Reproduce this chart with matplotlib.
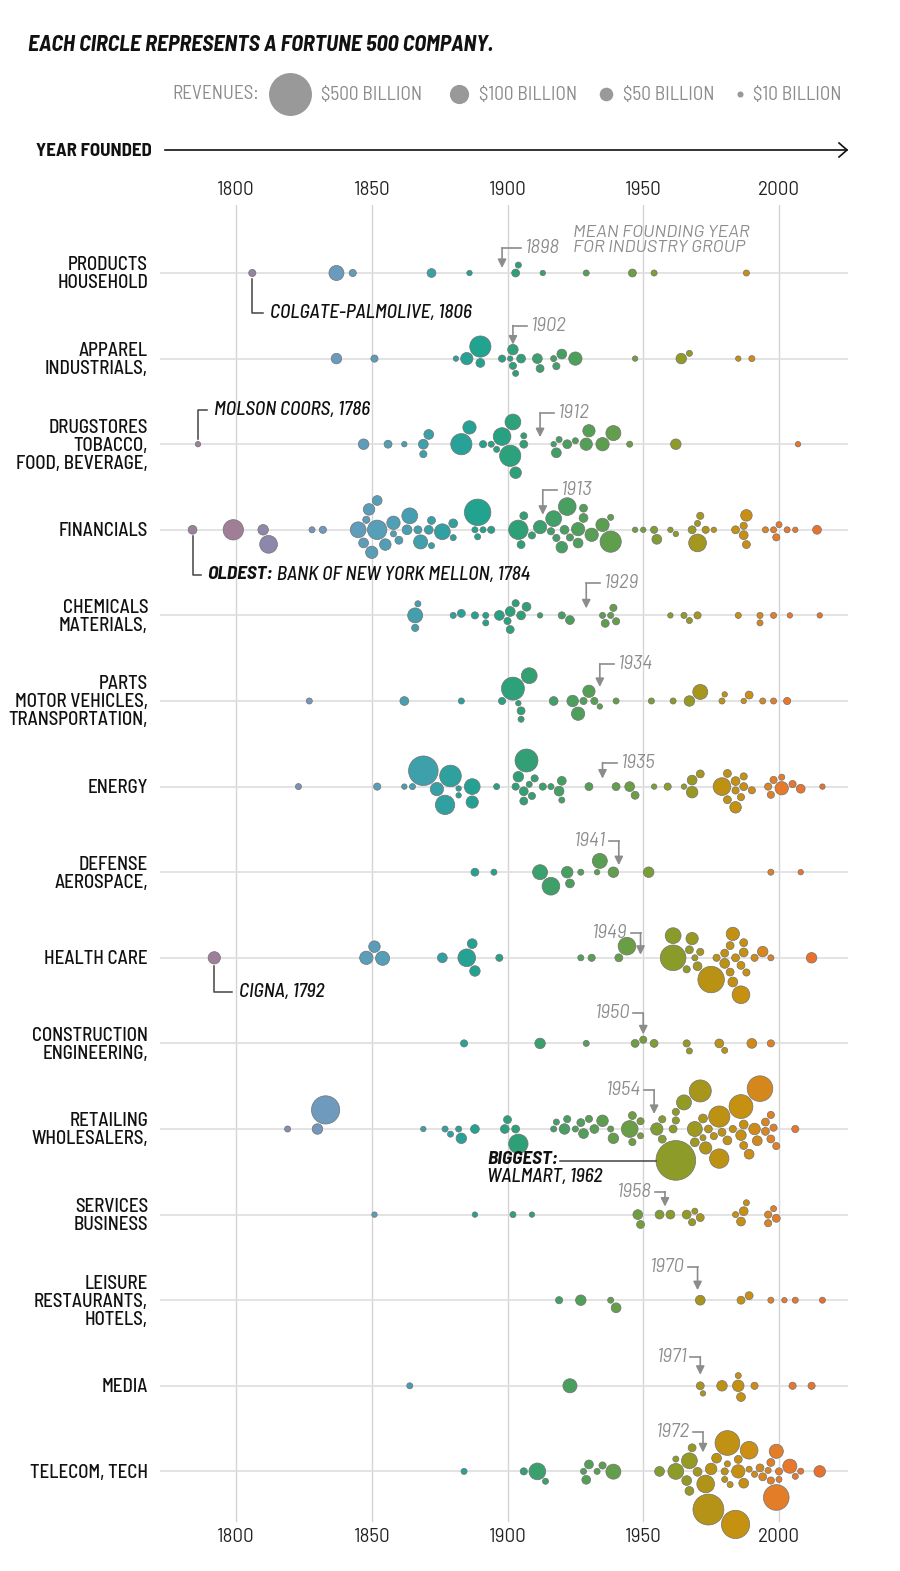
import numpy as np
import matplotlib
matplotlib.use("Agg")
import matplotlib.pyplot as plt
from matplotlib.colors import LinearSegmentedColormap
from matplotlib.transforms import blended_transform_factory

plt.rcParams["font.family"] = ["Barlow Semi Condensed", "DejaVu Sans"]
WIDE = ["Barlow", "Barlow Semi Condensed", "DejaVu Sans"]

# ---- data: (year founded, revenue $B) per industry row ----
row_labels = ["PRODUCTS\nHOUSEHOLD", "APPAREL\nINDUSTRIALS,", "DRUGSTORES\nTOBACCO,\nFOOD, BEVERAGE,",
              "FINANCIALS", "CHEMICALS\nMATERIALS,", "PARTS\nMOTOR VEHICLES,\nTRANSPORTATION,",
              "ENERGY", "DEFENSE\nAEROSPACE,", "HEALTH CARE", "CONSTRUCTION\nENGINEERING,",
              "RETAILING\nWHOLESALERS,", "SERVICES\nBUSINESS", "LEISURE\nRESTAURANTS,\nHOTELS,",
              "MEDIA", "TELECOM, TECH"]

mean_years = [1898, 1902, 1912, 1913, 1929, 1934, 1935, 1941, 1949, 1950, 1954, 1958, 1970, 1971, 1972]

household = [(1806, 14), (1837, 61), (1843, 14), (1872, 21), (1886, 8), (1903, 17), (1904, 10),
             (1913, 8), (1929, 10), (1946, 17), (1954, 10), (1988, 10)]
industrials = [(1837, 30), (1851, 14), (1881, 8), (1885, 41), (1890, 21), (1890, 122), (1898, 14),
               (1901, 8), (1903, 10), (1905, 21), (1902, 30), (1902, 14), (1912, 17), (1911, 26),
               (1917, 10), (1918, 14), (1920, 26), (1925, 48), (1947, 8), (1964, 30), (1967, 10),
               (1985, 8), (1990, 10)]
food = [(1786, 8), (1847, 30), (1856, 17), (1862, 8), (1869, 14), (1869, 26), (1871, 26), (1883, 122),
        (1886, 48), (1891, 14), (1894, 10), (1896, 10), (1898, 85), (1901, 122), (1902, 68), (1903, 36),
        (1906, 10), (1906, 17), (1918, 26), (1922, 21), (1919, 10), (1917, 8), (1925, 10), (1930, 41),
        (1929, 41), (1935, 48), (1939, 61), (1945, 10), (1962, 30), (2007, 8)]
financials = [(1784, 21), (1799, 112), (1810, 30), (1812, 85), (1828, 10), (1832, 14), (1845, 68),
              (1847, 26), (1848, 14), (1850, 41), (1852, 102), (1849, 36), (1852, 26), (1855, 36),
              (1858, 48), (1858, 10), (1860, 17), (1864, 68), (1863, 26), (1868, 54), (1867, 17),
              (1871, 21), (1872, 10), (1872, 17), (1876, 68), (1880, 21), (1880, 10), (1889, 190),
              (1888, 10), (1891, 10), (1894, 14), (1889, 10), (1904, 102), (1905, 17), (1906, 17),
              (1909, 14), (1912, 48), (1916, 14), (1920, 36), (1917, 68), (1918, 14), (1921, 21),
              (1922, 85), (1926, 48), (1926, 26), (1923, 14), (1928, 17), (1928, 21), (1931, 48),
              (1935, 48), (1938, 10), (1938, 122), (1947, 8), (1950, 8), (1955, 26), (1954, 14),
              (1960, 8), (1962, 8), (1970, 85), (1971, 14), (1968, 17), (1970, 10), (1973, 14),
              (1976, 8), (1984, 17), (1988, 17), (1987, 21), (1988, 36), (1987, 14), (1995, 10),
              (1998, 10), (2000, 10), (1999, 14), (2003, 10), (2006, 8), (2014, 21)]
materials = [(1867, 10), (1866, 14), (1866, 61), (1880, 10), (1883, 17), (1888, 14), (1892, 10),
             (1892, 10), (1901, 17), (1901, 26), (1907, 21), (1905, 21), (1903, 14), (1900, 14),
             (1897, 26), (1912, 8), (1920, 14), (1923, 21), (1935, 10), (1938, 10), (1939, 14),
             (1936, 17), (1940, 14), (1960, 8), (1965, 10), (1967, 10), (1970, 14), (1985, 10),
             (1993, 10), (1993, 10), (1998, 10), (2004, 8), (2015, 8)]
transport = [(1827, 10), (1862, 21), (1883, 10), (1902, 143), (1905, 10), (1898, 14), (1904, 8),
             (1908, 68), (1905, 17), (1917, 21), (1924, 36), (1926, 48), (1930, 41), (1928, 14),
             (1932, 14), (1934, 8), (1940, 10), (1953, 10), (1961, 10), (1971, 61), (1967, 30),
             (1979, 10), (1980, 8), (1989, 17), (1987, 8), (1994, 10), (1998, 10), (2003, 14)]
energy = [(1823, 10), (1852, 14), (1862, 8), (1865, 10), (1869, 237), (1879, 127), (1877, 102),
          (1874, 48), (1882, 8), (1882, 8), (1887, 68), (1887, 41), (1896, 10), (1907, 143),
          (1910, 14), (1904, 30), (1903, 14), (1906, 17), (1908, 10), (1909, 14), (1906, 21),
          (1913, 14), (1916, 10), (1919, 26), (1920, 10), (1920, 21), (1930, 17), (1940, 17),
          (1945, 26), (1947, 17), (1954, 8), (1959, 14), (1965, 8), (1968, 36), (1971, 17),
          (1968, 26), (1979, 85), (1981, 17), (1984, 14), (1987, 14), (1990, 14), (1984, 21),
          (1987, 17), (1981, 17), (1986, 14), (1984, 36), (1996, 14), (1998, 14), (2001, 10),
          (2005, 14), (2008, 21), (1997, 14), (2001, 48), (2016, 8)]
aerospace = [(1888, 17), (1895, 10), (1916, 85), (1912, 61), (1922, 36), (1923, 21), (1927, 10),
             (1934, 61), (1933, 8), (1939, 30), (1952, 30), (1997, 10), (2008, 8)]
health = [(1792, 41), (1848, 48), (1854, 54), (1851, 36), (1876, 26), (1885, 85), (1887, 26),
          (1888, 30), (1897, 14), (1927, 10), (1931, 14), (1941, 17), (1944, 85), (1961, 68),
          (1961, 178), (1968, 41), (1969, 10), (1966, 14), (1970, 21), (1971, 14), (1967, 17),
          (1975, 190), (1977, 14), (1980, 26), (1983, 26), (1986, 85), (1982, 17), (1980, 17),
          (1984, 17), (1987, 17), (1982, 17), (1986, 17), (1988, 14), (1991, 14), (1994, 30),
          (1997, 10), (1983, 48), (1987, 21), (2012, 30)]
engineering = [(1884, 14), (1912, 30), (1929, 10), (1947, 17), (1950, 14), (1954, 17), (1966, 14),
               (1967, 10), (1978, 21), (1980, 10), (1990, 26), (1997, 14)]
retail = [(1819, 10), (1830, 30), (1833, 216), (1869, 8), (1877, 10), (1879, 10), (1882, 10),
          (1883, 30), (1888, 21), (1899, 21), (1904, 102), (1900, 17), (1903, 17), (1917, 10),
          (1918, 10), (1922, 14), (1921, 30), (1925, 10), (1927, 17), (1928, 26), (1930, 14),
          (1932, 21), (1935, 36), (1938, 10), (1939, 30), (1945, 76), (1946, 17), (1949, 14),
          (1946, 14), (1949, 10), (1955, 41), (1957, 14), (1957, 17), (1962, 428), (1962, 14),
          (1962, 14), (1961, 17), (1965, 61), (1971, 132), (1969, 61), (1969, 21), (1972, 21),
          (1972, 10), (1974, 17), (1973, 41), (1978, 102), (1978, 122), (1976, 14), (1981, 21),
          (1979, 17), (1983, 14), (1986, 154), (1986, 30), (1987, 17), (1989, 26), (1987, 21),
          (1991, 36), (1993, 178), (1992, 26), (1995, 17), (1997, 17), (1999, 14), (1998, 14),
          (1995, 17), (1997, 14), (2006, 14)]
services = [(1851, 8), (1888, 8), (1902, 10), (1909, 8), (1948, 26), (1949, 17), (1956, 21),
            (1960, 21), (1966, 21), (1968, 14), (1969, 10), (1971, 17), (1986, 21), (1984, 10),
            (1988, 10), (1987, 21), (1996, 14), (1999, 17), (1998, 10), (1996, 14)]
leisure = [(1919, 14), (1927, 30), (1938, 10), (1940, 26), (1971, 26), (1986, 17), (1989, 17),
           (1997, 10), (2002, 8), (2006, 10), (2016, 10)]
media = [(1864, 10), (1923, 54), (1971, 17), (1972, 8), (1979, 30), (1985, 36), (1986, 21),
         (1985, 10), (1991, 14), (2005, 14), (2012, 14)]
tech = [(1884, 10), (1906, 14), (1911, 76), (1914, 10), (1928, 10), (1929, 21), (1930, 21),
        (1933, 10), (1935, 14), (1939, 61), (1956, 26), (1962, 68), (1962, 10), (1967, 21),
        (1966, 26), (1967, 68), (1970, 21), (1968, 17), (1973, 85), (1974, 259), (1975, 36),
        (1977, 26), (1980, 14), (1981, 10), (1982, 10), (1985, 17), (1985, 48), (1981, 166),
        (1984, 216), (1980, 10), (1987, 26), (1989, 85), (1989, 10), (1991, 10), (1993, 17),
        (1994, 17), (1996, 10), (1997, 17), (1999, 54), (1999, 178), (2000, 10), (1997, 14),
        (2000, 14), (2004, 54), (2006, 10), (2008, 10), (2015, 36)]

rows = [household, industrials, food, financials, materials, transport, energy, aerospace,
        health, engineering, retail, services, leisure, media, tech]

legend_revs = [500, 100, 50, 10]
legend_texts = ["$500 BILLION", "$100 BILLION", "$50 BILLION", "$10 BILLION"]
decades = [1800, 1850, 1900, 1950, 2000]

# ---- geometry (pixels, fig is 900 x 1571 at 100 dpi) ----
W, H, DPI = 900, 1571, 100
PX_PER_YR = 543 / 200.0
X0_YR = 1800 - (236 - 160) / PX_PER_YR
X1_YR = 1800 + (848 - 236) / PX_PER_YR
AX_TOP, AX_BOT = 205, 1522
R_K = 0.96          # radius px = R_K * sqrt(revenue)
row_y = [273 + 85.6 * i for i in range(len(rows))]

stops = [(1784, "#9a809b"), (1800, "#a27e98"), (1812, "#8a89ad"), (1835, "#6c9bbe"),
         (1860, "#4d9fb5"), (1875, "#33a0a4"), (1890, "#1fa38e"), (1905, "#2fa076"),
         (1925, "#4d9f5c"), (1945, "#6a9e44"), (1958, "#869c2e"), (1968, "#969a22"),
         (1975, "#b99214"), (1988, "#c8900f"), (1996, "#db8422"), (2002, "#e8782c"),
         (2016, "#e8702e")]
Y_MIN, Y_MAX = stops[0][0], stops[-1][0]
cmap = LinearSegmentedColormap.from_list(
    "founded", [((y - Y_MIN) / (Y_MAX - Y_MIN), c) for y, c in stops])


def swarm(items, pad=1.4):
    """place circles along x, pushing them off the line only when they collide"""
    xs = np.array([y for y, _ in items]) * PX_PER_YR
    rs = R_K * np.sqrt([r for _, r in items])
    order = sorted(range(len(items)), key=lambda i: (items[i][0], -items[i][1]))
    ys = np.zeros(len(items))
    done = []
    for k, i in enumerate(order):
        cands = [0.0]
        for j in done:
            dx = xs[i] - xs[j]
            d = rs[i] + rs[j] + pad
            if abs(dx) < d:
                dy = np.sqrt(d * d - dx * dx)
                cands += [ys[j] + dy, ys[j] - dy]
        big = rs[i] > 15
        sgn = 1 if (k % 2 or big) else -1

        def cost(v):
            c = abs(v)
            if big and v < 0:
                c += 6
            return (round(c, 3), -sgn * v)
        cands.sort(key=cost)
        for c in cands:
            ok = all((xs[i] - xs[j]) ** 2 + (c - ys[j]) ** 2 >= (rs[i] + rs[j] + pad - 0.01) ** 2
                     for j in done)
            if ok:
                ys[i] = c
                break
        done.append(i)
    return ys, rs


fig = plt.figure(figsize=(W / DPI, H / DPI), dpi=DPI)
ax = fig.add_axes([160 / W, 1 - AX_BOT / H, (848 - 160) / W, (AX_BOT - AX_TOP) / H])
ax.set_xlim(X0_YR, X1_YR)
ax.set_ylim(AX_BOT, AX_TOP)
for s in ax.spines.values():
    s.set_visible(False)
ax.set_yticks([])
ax.set_xticks(decades)
ax.tick_params(axis="x", length=0, top=True, labeltop=True, bottom=True, labelbottom=True,
               labelsize=13.5, labelcolor="#222222", pad=4)
for tk in ax.xaxis.get_major_ticks():
    tk.label1.set_family(WIDE)
    tk.label2.set_family(WIDE)
ax.grid(axis="x", color="#d4d4d4", lw=1)
ax.set_axisbelow(True)

lab_tr = blended_transform_factory(ax.transAxes, ax.transData)
gray = "#8c8c8c"
positions = {}

for i, items in enumerate(rows):
    y0 = row_y[i]
    ax.axhline(y0, color="#dedede", lw=1.2, zorder=1)
    offs, rs = swarm(items)
    yrs = np.array([y for y, _ in items])
    cols = cmap((yrs - Y_MIN) / (Y_MAX - Y_MIN))
    sizes = (2 * rs * 72 / DPI) ** 2
    ax.scatter(yrs, y0 + offs, s=sizes, c=cols, edgecolors="#727272", linewidths=0.5,
               zorder=3, clip_on=False)
    positions[i] = (yrs, y0 + offs, rs)
    ax.text(-12 / 688, y0 + 1.5, row_labels[i], transform=lab_tr, ha="right", va="center",
            fontsize=13.6, weight="medium", color="#111111", linespacing=1.0)

# mean founding year markers: (text on right?, bracket height above line, tip gap)
mean_style = [(True, 25, 5), (True, 33, 14), (True, 31, 7), (True, 40, 15), (True, 32, 7),
              (True, 37, 14), (True, 24, 8), (False, 31, 7), (False, 25, 3), (False, 30, 9),
              (False, 39, 15), (False, 23, 8), (False, 33, 10), (False, 29, 11), (False, 39, 19)]
for i, (yr, (right, top, tip)) in enumerate(zip(mean_years, mean_style)):
    y0 = row_y[i]
    ytop = y0 - top
    if right:
        stub = (19 if i == 0 else 14) / PX_PER_YR
        ax.plot([yr, yr + stub], [ytop, ytop], color=gray, lw=1.2, zorder=4)
        ax.text(yr + stub + 4 / PX_PER_YR, ytop, str(yr), ha="left", va="center", family=WIDE,
                fontsize=13.5, style="italic", color=gray)
    else:
        stub = 10 / PX_PER_YR
        ax.plot([yr - stub, yr], [ytop, ytop], color=gray, lw=1.2, zorder=4)
        ax.text(yr - stub - 3 / PX_PER_YR, ytop, str(yr), ha="right", va="center", family=WIDE,
                fontsize=13.5, style="italic", color=gray)
    ax.annotate("", xy=(yr, y0 - tip), xytext=(yr, ytop), zorder=4,
                arrowprops=dict(arrowstyle="-|>,head_length=0.5,head_width=0.25", color=gray,
                                lw=1.2, shrinkA=0, shrinkB=0))

ax.text(1800 + (573 - 236) / PX_PER_YR, row_y[0] - 33, "MEAN FOUNDING YEAR\nFOR INDUSTRY GROUP",
        ha="left", va="center", fontsize=13, style="italic", color=gray, linespacing=1.0,
        family=WIDE)


# callouts for notable companies
def callout(row, year, text_parts, ty, tx_year, down=True):
    yrs, ys, rs = positions[row]
    k = int(np.argmin(np.abs(yrs - year)))
    cy = ys[k] + (rs[k] if down else -rs[k])
    ax.plot([year, year, tx_year - 2 / PX_PER_YR], [cy + (2 if down else -2), ty, ty],
            color="#444444", lw=1.1, zorder=4)
    x = tx_year + 5 / PX_PER_YR
    for txt, weight in text_parts:
        t = ax.text(x, ty, txt, ha="left", va="center", fontsize=14, style="italic",
                    weight=weight, color="#111111")
        fig.canvas.draw()
        bb = t.get_window_extent()
        x = ax.transData.inverted().transform((bb.x1, 0))[0]


callout(0, 1806, [("COLGATE-PALMOLIVE, 1806", "medium")], 313, 1806 + 13 / PX_PER_YR)
callout(2, 1786, [("MOLSON COORS, 1786", "medium")], 410, 1786 + 11 / PX_PER_YR, down=False)
callout(3, 1784, [("OLDEST:", "bold"), (" BANK OF NEW YORK MELLON, 1784", "medium")], 575,
        1784 + 10 / PX_PER_YR)
callout(8, 1792, [("CIGNA, 1792", "medium")], 992, 1792 + 20 / PX_PER_YR)

# biggest: walmart
yrs, ys, rs = positions[10]
k = int(np.argmax(rs))
ly = ys[k] + 0.05 * rs[k]
ax.plot([1800 + (560 - 236) / PX_PER_YR, yrs[k] - np.sqrt(rs[k] ** 2 - (ly - ys[k]) ** 2) / PX_PER_YR],
        [ly, ly], color="#444444", lw=1.1, zorder=4)
ax.text(1800 + (487 - 236) / PX_PER_YR, ly - 2, "BIGGEST:", ha="left", va="center", fontsize=14,
        style="italic", weight="bold", color="#111111")
ax.text(1800 + (487 - 236) / PX_PER_YR, ly + 16, "WALMART, 1962", ha="left", va="center",
        fontsize=14, style="italic", weight="medium", color="#111111")

# ---- header ----
fig.text(28 / W, 1 - 45 / H, "EACH CIRCLE REPRESENTS A FORTUNE 500 COMPANY.", ha="left",
         va="center", fontsize=16, style="italic", weight="bold", color="#111111")
fig.text(259 / W, 1 - 94 / H, "REVENUES:", ha="right", va="center", fontsize=13.8, color=gray)
leg_x = [290, 459, 606, 740]
for lx, rev, txt in zip(leg_x, legend_revs, legend_texts):
    r = R_K * np.sqrt(rev)
    fig.add_artist(plt.Line2D([lx / W], [1 - 94 / H], marker="o", markersize=2 * r * 72 / DPI,
                              color="#999999", markeredgewidth=0, transform=fig.transFigure))
    fig.text((lx + r + 10) / W, 1 - 95 / H, txt, ha="left", va="center", fontsize=13.8, color=gray)

fig.text(36 / W, 1 - 151 / H, "YEAR FOUNDED", ha="left", va="center", fontsize=13.5,
         weight="bold", color="#111111")
fig.add_artist(plt.Line2D([165 / W, 847 / W], [1 - 150 / H, 1 - 150 / H], color="#111111", lw=1.2,
                          transform=fig.transFigure))
fig.add_artist(plt.Line2D([839 / W, 847 / W, 839 / W], [1 - 143 / H, 1 - 150 / H, 1 - 157 / H],
                          color="#111111", lw=1.2, transform=fig.transFigure))

fig.savefig("out.png", dpi=DPI, facecolor="white")
